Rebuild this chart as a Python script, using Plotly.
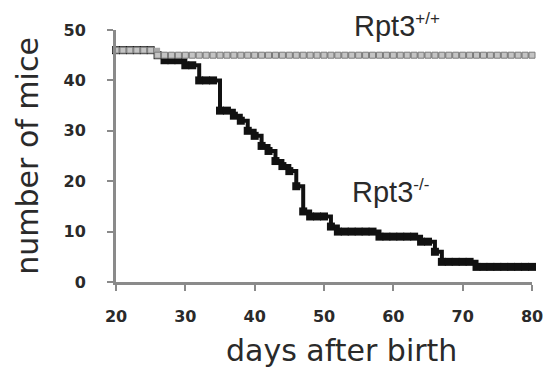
import plotly.graph_objects as go

days = list(range(20, 81))
wt_counts = [46]*6 + [45]*55
ko_counts = ([46]*6 + [45, 44, 44, 44, 43, 43, 40, 40, 40, 34, 34, 33, 32, 30, 29, 27, 26, 24, 23, 22,
             19, 14, 13, 13, 13, 11] + [10]*6 + [9]*6 + [8]*2 + [6] + [4]*5 + [3]*9)

x_ticks = [20, 30, 40, 50, 60, 70, 80]
y_ticks = [0, 10, 20, 30, 40, 50]

fig = go.Figure()
fig.add_trace(go.Scatter(
    x=days, y=ko_counts, mode="lines+markers", line_shape="hv",
    line=dict(color="#111111", width=4),
    marker=dict(symbol="square", size=8, color="#111111"),
    cliponaxis=False, showlegend=False))
fig.add_trace(go.Scatter(
    x=days, y=wt_counts, mode="lines+markers", line_shape="hv",
    line=dict(color="#a8a8a8", width=5),
    marker=dict(symbol="square", size=6, color="#c4c4c4", line=dict(color="#7a7a7a", width=1)),
    cliponaxis=False, showlegend=False))

tickfont = dict(family="DejaVu Sans", size=16, color="#2a2a2a", weight="bold")
fig.update_xaxes(range=[20, 80], tickvals=x_ticks, ticks="outside", ticklen=6, tickwidth=2,
                 tickcolor="#8a8a8a", showline=True, linecolor="#8a8a8a", linewidth=3,
                 showgrid=False, zeroline=False, tickfont=tickfont, ticklabelstandoff=12)
fig.update_yaxes(range=[0, 50], tickvals=y_ticks, ticks="outside", ticklen=6, tickwidth=2,
                 tickcolor="#8a8a8a", showline=True, linecolor="#8a8a8a", linewidth=3,
                 showgrid=False, zeroline=False, tickfont=tickfont, ticklabelstandoff=18)

titlefont = dict(family="DejaVu Sans", size=30, color="#2a2a2a")
labelfont = dict(family="Liberation Sans", size=29, color="#2a2a2a")
# plot area at pixels x 116-540, y 30-282
fig.update_layout(
    width=555, height=368,
    margin=dict(l=116, r=15, t=30, b=86),
    paper_bgcolor="white", plot_bgcolor="white",
    annotations=[
        dict(text="number of mice", xref="paper", yref="paper", x=(25 - 116) / 424, y=(282 - 156) / 252,
             textangle=-90, showarrow=False, font=titlefont, xanchor="center", yanchor="middle"),
        dict(text="days after birth", xref="paper", yref="paper", x=(346 - 116) / 424, y=(282 - 350) / 252,
             showarrow=False, font=titlefont, xanchor="center", yanchor="middle"),
        dict(text="Rpt3<sup><span style='font-size:17px'>+/+</span></sup>", xref="paper", yref="paper",
             x=(357 - 116) / 424, y=(282 - 25) / 252, showarrow=False, font=labelfont,
             xanchor="left", yanchor="middle"),
        dict(text="Rpt3<sup><span style='font-size:17px'>-/-</span></sup>", xref="paper", yref="paper",
             x=(355 - 116) / 424, y=(282 - 191) / 252, showarrow=False, font=labelfont,
             xanchor="left", yanchor="middle"),
    ],
)

fig.write_html("out.html", config={"displayModeBar": False},
               post_script="document.body.style.margin='0px';document.body.style.overflow='hidden';")
